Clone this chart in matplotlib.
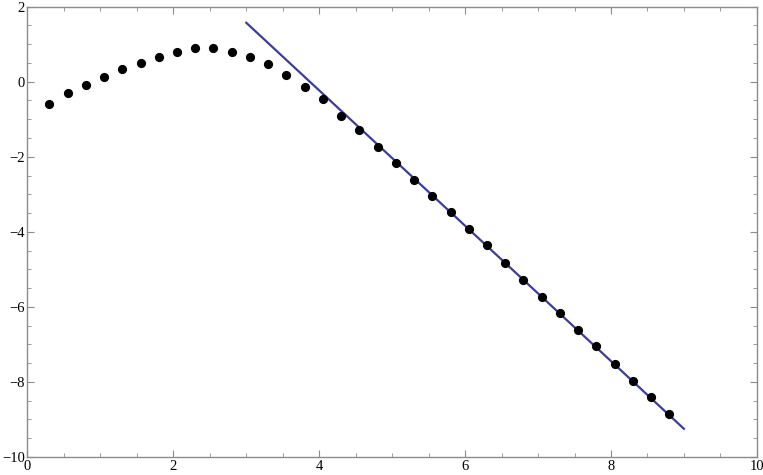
# data points and fitted asymptote line, framed plot in the classic style
import numpy as np
import matplotlib.pyplot as plt
from matplotlib.ticker import MultipleLocator

plt.rcParams['font.family'] = ['Liberation Serif']
plt.rcParams['axes.unicode_minus'] = True

# sampled points
x_pts = [0.30, 0.55, 0.80, 1.05, 1.30, 1.55, 1.80, 2.05, 2.30, 2.55, 2.80, 3.05,
         3.30, 3.55, 3.80, 4.05, 4.30, 4.55, 4.80, 5.05, 5.30, 5.55, 5.80, 6.05,
         6.30, 6.55, 6.80, 7.05, 7.30, 7.55, 7.80, 8.05, 8.30, 8.55, 8.80]
y_pts = [-0.59, -0.30, -0.10, 0.13, 0.35, 0.51, 0.67, 0.78, 0.89, 0.89, 0.78, 0.67,
         0.46, 0.19, -0.14, -0.47, -0.92, -1.29, -1.73, -2.16, -2.61, -3.04, -3.47, -3.92,
         -4.35, -4.83, -5.28, -5.73, -6.16, -6.61, -7.04, -7.52, -7.97, -8.40, -8.85]

# straight line
x_line = [3.0, 9.0]
y_line = [1.57, -9.25]

frame_col = '#8c8c8c'

fig = plt.figure(figsize=(7.63, 4.75), dpi=100)
ax = fig.add_axes([0.036, 0.038, 0.956, 0.948])

ax.plot(x_pts, y_pts, 'o', color='black', markersize=5.6, zorder=3)
ax.plot(x_line, y_line, color='#3d3d99', linewidth=1.6, zorder=2)

ax.set_xlim(0, 10)
ax.set_ylim(-10, 2)
ax.xaxis.set_major_locator(MultipleLocator(2))
ax.xaxis.set_minor_locator(MultipleLocator(0.5))
ax.yaxis.set_major_locator(MultipleLocator(2))
ax.yaxis.set_minor_locator(MultipleLocator(0.5))

for s in ax.spines.values():
    s.set_color(frame_col)
    s.set_linewidth(1.0)

ax.tick_params(which='both', direction='in', top=True, right=True,
               color=frame_col, labelsize=10.5, labelcolor='black')
ax.tick_params(which='major', length=5, width=0.8, pad=2)
ax.tick_params(which='minor', length=3, width=0.6)

plt.savefig('out.png', dpi=100)
